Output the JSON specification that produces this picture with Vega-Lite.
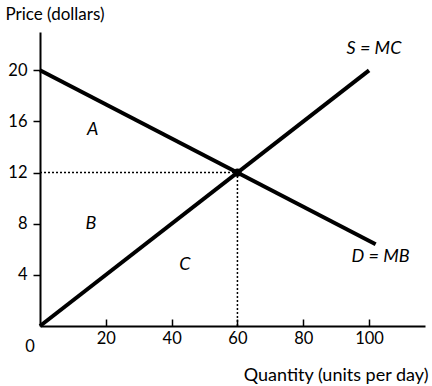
{
  "$schema": "https://vega.github.io/schema/vega-lite/v6.json",
  "width": 385,
  "height": 294,
  "autosize": "none",
  "padding": {"left": 40, "top": 32, "right": 7, "bottom": 60},
  "background": "white",
  "config": {"view": {"stroke": null}, "font": "Lato"},
  "datasets": {
    "curves": [
      {"curve": "S", "q": 0, "p": 0},
      {"curve": "S", "q": 100, "p": 20},
      {"curve": "D", "q": 0, "p": 20},
      {"curve": "D", "q": 102, "p": 6.4}
    ],
    "guides": [
      {"g": "h", "q": 0, "p": 12},
      {"g": "h", "q": 60, "p": 12},
      {"g": "v", "q": 60, "p": 0},
      {"g": "v", "q": 60, "p": 12}
    ],
    "labels": [
      {"t": "A", "q": 16, "p": 15.3},
      {"t": "B", "q": 15.5, "p": 8},
      {"t": "C", "q": 44, "p": 4.8},
      {"t": "S = MC", "q": 101.5, "p": 21.7},
      {"t": "D = MB", "q": 103.5, "p": 5.4}
    ],
    "eq": [{"q": 60, "p": 12}],
    "zero": [{"q": 0, "p": 0, "t": "0"}]
  },
  "layer": [
    {
      "data": {"name": "guides"},
      "mark": {"type": "line", "stroke": "black", "strokeWidth": 1.5, "strokeDash": [2, 2]},
      "encoding": {
        "x": {
          "field": "q", "type": "quantitative",
          "scale": {"domain": [0, 117], "nice": false, "zero": true},
          "axis": {
            "values": [20, 40, 60, 80, 100],
            "grid": false,
            "domainColor": "black", "domainWidth": 2,
            "tickColor": "black", "tickWidth": 1.5, "tickSize": -7,
            "labelFontSize": 16.5, "labelColor": "black", "labelPadding": 11,
            "labelFont": "Lato",
            "title": "Quantity (units per day)",
            "titleFont": "Lato", "titleFontSize": 18, "titleFontWeight": "normal",
            "titleColor": "black",
            "titleAlign": "right", "titleBaseline": "middle",
            "titleX": 388, "titleY": 49
          }
        },
        "y": {
          "field": "p", "type": "quantitative",
          "scale": {"domain": [0, 23], "nice": false, "zero": true},
          "axis": {
            "values": [4, 8, 12, 16, 20],
            "grid": false,
            "domainColor": "black", "domainWidth": 2,
            "tickColor": "black", "tickWidth": 1.5, "tickSize": 7,
            "labelFontSize": 16.5, "labelColor": "black", "labelPadding": 6,
            "labelFont": "Lato",
            "title": "Price (dollars)",
            "titleFont": "Lato", "titleFontSize": 17, "titleFontWeight": "normal",
            "titleColor": "black", "titleAngle": 0,
            "titleAlign": "left", "titleBaseline": "middle",
            "titleX": -35, "titleY": -18
          }
        },
        "detail": {"field": "g"}
      }
    },
    {
      "data": {"name": "curves"},
      "mark": {"type": "line", "stroke": "black", "strokeWidth": 4},
      "encoding": {
        "x": {"field": "q", "type": "quantitative"},
        "y": {"field": "p", "type": "quantitative"},
        "detail": {"field": "curve"}
      }
    },
    {
      "data": {"name": "eq"},
      "mark": {"type": "circle", "color": "black", "opacity": 1, "size": 70},
      "encoding": {
        "x": {"field": "q", "type": "quantitative"},
        "y": {"field": "p", "type": "quantitative"}
      }
    },
    {
      "data": {"name": "labels"},
      "mark": {"type": "text", "fontSize": 18, "fontStyle": "italic", "font": "Lato", "color": "black"},
      "encoding": {
        "x": {"field": "q", "type": "quantitative"},
        "y": {"field": "p", "type": "quantitative"},
        "text": {"field": "t"}
      }
    },
    {
      "data": {"name": "zero"},
      "mark": {"type": "text", "fontSize": 16.5, "font": "Lato", "color": "black", "dx": -10, "dy": 21},
      "encoding": {
        "x": {"field": "q", "type": "quantitative"},
        "y": {"field": "p", "type": "quantitative"},
        "text": {"field": "t"}
      }
    }
  ]
}
